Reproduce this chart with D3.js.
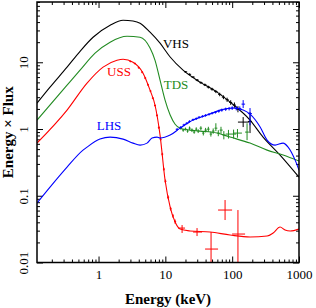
<!DOCTYPE html>
<html>
<head>
<meta charset="utf-8">
<script src="https://cdn.jsdelivr.net/npm/d3@7"></script>
<style>
  html, body { margin: 0; padding: 0; background: #fff; }
  svg { display: block; }
</style>
</head>
<body>
<div id="chart"></div>
<script>
// Tick labels
const energyTicks = [1, 10, 100, 1000];
const fluxTicks = [0.01, 0.1, 1, 10];

// Model curves: [energy keV, E x Flux]
const vhsModel = [[0.12, 2.44], [0.188, 4.24], [0.338, 8.45], [0.529, 14.6], [0.828, 23.7], [1.49, 35.9],
    [2.33, 42.7], [3.28, 41.5], [4.18, 38.5], [5.9, 28.2], [8.33, 19.3], [11.8, 12.0], [18.4, 7.62],
    [33.1, 5.04], [59.4, 3.57], [93, 2.53], [185, 1.36], [290, 0.757], [521, 0.407], [1000, 0.19]];
const tdsModel = [[0.12, 1.36], [0.338, 4.54], [0.529, 7.62], [0.887, 13.7], [1.49, 20.0], [2.67, 24.5],
    [4.18, 23.7], [5.9, 16.3], [7.01, 10.7], [8.33, 5.4], [9.9, 2.71], [11.8, 1.62], [14.0, 1.18],
    [16.6, 1.03], [23.4, 0.963], [33.1, 0.931], [59.4, 0.869], [93, 0.757], [185, 0.615], [333, 0.483],
    [578, 0.407], [1000, 0.331]];
const ussModel = [[0.12, 0.615], [0.338, 1.92], [0.673, 4.87], [1.17, 8.45], [1.89, 10.7], [2.33, 11.1],
    [3.28, 10.0], [4.64, 6.87], [5.9, 3.82], [7.01, 2.27], [8.33, 0.811], [9.9, 0.172], [11.8, 0.0678],
    [14.0, 0.0404], [16.6, 0.0317], [23.4, 0.0297], [46.7, 0.0286], [93, 0.0258], [185, 0.0241],
    [333, 0.0249], [410, 0.0277], [521, 0.034], [619, 0.0307], [736, 0.0297], [1000, 0.0317]];
const lhsModel = [[0.12, 0.0778], [0.188, 0.135], [0.338, 0.269], [0.586, 0.483], [0.673, 0.536],
    [1.05, 0.706], [1.49, 0.757], [2.33, 0.706], [3.28, 0.615], [4.18, 0.574], [5.32, 0.615],
    [6.32, 0.731], [7.51, 0.757], [8.33, 0.731], [11.8, 0.811], [16.6, 1.03], [26.0, 1.36], [42.1, 1.62],
    [65.9, 1.92], [103, 2.06], [146, 1.92], [185, 1.67], [262, 1.07], [333, 0.682], [439, 0.574],
    [578, 0.615], [687, 0.536], [875, 0.342], [1000, 0.242]];

// Data points: [energy, flux, eLo, eHi, fLo, fHi]
const vhsData = [[20, 7.2, 19, 21.2, 7.0, 7.4], [23, 6.6, 21.8, 24.3, 6.4, 6.8], [26, 6.0, 24.6, 27.5, 5.8, 6.2],
    [30, 5.4, 28.4, 31.7, 5.2, 5.6], [34, 4.95, 32.2, 36, 4.75, 5.15], [39, 4.6, 37, 41.2, 4.4, 4.8],
    [44, 4.25, 41.7, 46.5, 4.05, 4.45], [50, 3.95, 47.4, 52.8, 3.75, 4.15], [57, 3.65, 54, 60.2, 3.45, 3.85],
    [65, 3.3, 61.6, 68.6, 3.1, 3.5], [74, 3.0, 70, 78, 2.8, 3.2], [84, 2.75, 79.5, 88.7, 2.55, 2.95],
    [95, 2.5, 90, 100, 2.3, 2.7], [108, 2.28, 102, 114, 2.08, 2.5], [122, 1.98, 115, 129, 1.78, 2.2],
    [146, 1.27, 122, 178, 1.07, 1.51], [185, 1.3, 172, 198, 0.87, 1.79]];
const tdsData = [[17, 1.03, 16.2, 17.8, 0.98, 1.08], [18.5, 0.963, 17.8, 19.3, 0.91, 1.01],
    [20, 0.996, 19.3, 20.8, 0.95, 1.05], [21.5, 0.931, 20.8, 22.3, 0.88, 0.98],
    [23, 1.03, 22.3, 24, 0.97, 1.09], [25, 0.963, 24, 26, 0.9, 1.02], [27, 0.899, 26, 28, 0.85, 0.96],
    [29, 0.996, 28, 30, 0.93, 1.06], [31, 0.931, 30, 32.5, 0.87, 0.99], [34, 1.03, 32.5, 35.5, 0.96, 1.1],
    [37, 0.869, 35.5, 38.5, 0.8, 0.93], [40, 0.963, 38.5, 42, 0.89, 1.04], [44, 0.996, 42, 46, 0.91, 1.08],
    [48, 0.84, 46, 50, 0.77, 0.92], [52, 0.931, 50, 54.5, 0.85, 1.02], [57, 1.03, 54.5, 60, 0.93, 1.22],
    [62, 0.869, 60, 65, 0.78, 0.96], [68, 0.963, 65, 72, 0.85, 1.08], [75, 0.811, 72, 80, 0.7, 0.93],
    [88, 0.84, 80, 96, 0.72, 0.97], [105, 0.84, 96, 115, 0.72, 0.98], [120, 0.869, 103, 140, 0.74, 1.0],
    [167, 0.899, 156, 178, 0.682, 1.22]];
const ussData = [[3.0, 10.3, 2.9, 3.1, 10.0, 10.6], [3.5, 9.6, 3.38, 3.62, 9.3, 9.9], [4.0, 8.3, 3.86, 4.14, 8.0, 8.6],
    [4.5, 7.1, 4.35, 4.65, 6.85, 7.35], [5.0, 5.8, 4.83, 5.17, 5.6, 6.0], [5.5, 4.6, 5.32, 5.68, 4.45, 4.75],
    [6.0, 3.7, 5.8, 6.2, 3.58, 3.82], [6.5, 2.9, 6.28, 6.72, 2.8, 3.0], [7.0, 2.25, 6.77, 7.23, 2.17, 2.33],
    [7.5, 1.6, 7.25, 7.75, 1.54, 1.66], [8.0, 1.05, 7.73, 8.27, 1.0, 1.1], [8.5, 0.7, 8.22, 8.78, 0.67, 0.73],
    [9.0, 0.42, 8.7, 9.3, 0.4, 0.44], [9.5, 0.25, 9.2, 9.8, 0.238, 0.262], [10, 0.165, 9.7, 10.4, 0.155, 0.175],
    [11, 0.095, 10.6, 11.4, 0.089, 0.101], [12, 0.064, 11.6, 12.4, 0.06, 0.068], [13, 0.05, 12.6, 13.4, 0.047, 0.053],
    [14, 0.041, 13.5, 14.5, 0.038, 0.044], [17.8, 0.0328, 15.5, 19.7, 0.0277, 0.0364],
    [29.8, 0.0286, 26, 35.4, 0.0249, 0.0328], [78.3, 0.0611, 61.5, 99.7, 0.0433, 0.0863],
    [48.3, 0.0159, 39.3, 61.5, 0.005, 0.0286], [122, 0.0267, 99.7, 156, 0.005, 0.0611]];
const lhsData = [[15, 0.99, 14.3, 15.7, 0.95, 1.03], [17, 1.06, 16.2, 17.8, 1.02, 1.1], [19, 1.15, 18.1, 19.9, 1.1, 1.2],
    [21, 1.22, 20, 22, 1.17, 1.27], [23, 1.3, 22, 24.2, 1.25, 1.35], [26, 1.38, 24.8, 27.3, 1.33, 1.43],
    [29, 1.43, 27.6, 30.4, 1.37, 1.49], [32, 1.5, 30.5, 33.6, 1.44, 1.56], [36, 1.55, 34.3, 37.8, 1.49, 1.61],
    [40, 1.6, 38.1, 42, 1.53, 1.67], [45, 1.66, 42.8, 47.2, 1.59, 1.73], [50, 1.72, 47.6, 52.5, 1.65, 1.8],
    [56, 1.78, 53.3, 58.8, 1.7, 1.86], [63, 1.85, 60, 66, 1.76, 1.94], [70, 1.92, 66.7, 73.5, 1.82, 2.02],
    [80, 1.98, 76, 84, 1.87, 2.09], [90, 2.02, 85.7, 94.5, 1.9, 2.14], [100, 2.06, 95, 105, 1.93, 2.19],
    [115, 2.05, 109, 121, 1.9, 2.2], [130, 2.02, 123, 137, 1.86, 2.18], [146, 2.36, 138, 156, 2.06, 2.71],
    [185, 1.7, 172, 198, 1.14, 2.06]];

const series = [
    { name: 'VHS', color: '#000000', model: vhsModel, data: vhsData, label: [176, 48] },
    { name: 'TDS', color: '#228b22', model: tdsModel, data: tdsData, label: [176, 89] },
    { name: 'USS', color: '#ff0000', model: ussModel, data: ussData, label: [119, 76] },
    { name: 'LHS', color: '#0000ff', model: lhsModel, data: lhsData, label: [109, 130] }
];

const width = 316, height = 308;
const margin = { top: 2, right: 17, bottom: 45.5, left: 37 };
const innerW = width - margin.left - margin.right;
const innerH = height - margin.top - margin.bottom;
const fontFamily = '"Liberation Serif", "Times New Roman", serif';

const svg = d3.select('#chart')
    .append('svg')
    .attr('width', width)
    .attr('height', height);

const x = d3.scaleLog().domain([0.12, 1000]).range([0, innerW]);
const y = d3.scaleLog().domain([0.01, 80]).range([innerH, 0]);

const g = svg.append('g')
    .attr('transform', `translate(${margin.left},${margin.top})`);

g.append('clipPath').attr('id', 'plot-clip')
    .append('rect').attr('width', innerW).attr('height', innerH);

// log ticks: minor and major
const allTicks = (scale) => {
    const [lo, hi] = scale.domain();
    const out = [];
    for (let d = -3; d <= 4; d++) {
        for (let k = 1; k <= 9; k++) {
            const v = k * Math.pow(10, d);
            if (v >= lo * 0.999 && v <= hi * 1.001) out.push({ v, major: k === 1 });
        }
    }
    return out;
};
const xMinor = allTicks(x).filter(t => !t.major).map(t => t.v);
const yMinor = allTicks(y).filter(t => !t.major).map(t => t.v);

const styleAxis = (sel) => {
    sel.select('.domain').remove();
    sel.selectAll('line').attr('stroke', '#000').attr('stroke-width', 1);
    sel.selectAll('text').attr('fill', '#000').style('font-family', fontFamily).style('font-size', '13px');
};

// bottom
g.append('g').attr('transform', `translate(0,${innerH})`)
    .call(d3.axisBottom(x).tickValues(xMinor).tickSize(-3).tickFormat(''))
    .call(styleAxis);
g.append('g').attr('transform', `translate(0,${innerH})`)
    .call(d3.axisBottom(x).tickValues(energyTicks).tickSize(-6).tickPadding(7).tickFormat(d3.format('d')))
    .call(styleAxis);
// top
g.append('g')
    .call(d3.axisTop(x).tickValues(xMinor).tickSize(-3).tickFormat(''))
    .call(styleAxis);
g.append('g')
    .call(d3.axisTop(x).tickValues(energyTicks).tickSize(-6).tickFormat(''))
    .call(styleAxis);
// left
g.append('g')
    .call(d3.axisLeft(y).tickValues(yMinor).tickSize(-3).tickFormat(''))
    .call(styleAxis);
const yAxisG = g.append('g')
    .call(d3.axisLeft(y).tickValues(fluxTicks).tickSize(-6).tickFormat(d => String(d)))
    .call(styleAxis);
yAxisG.selectAll('text')
    .attr('transform', 'rotate(-90)')
    .attr('x', 0)
    .attr('y', -9)
    .attr('dy', 0)
    .attr('text-anchor', 'middle');
// right
g.append('g').attr('transform', `translate(${innerW},0)`)
    .call(d3.axisRight(y).tickValues(yMinor).tickSize(-3).tickFormat(''))
    .call(styleAxis);
g.append('g').attr('transform', `translate(${innerW},0)`)
    .call(d3.axisRight(y).tickValues(fluxTicks).tickSize(-6).tickFormat(''))
    .call(styleAxis);

const plot = g.append('g').attr('clip-path', 'url(#plot-clip)');

const line = d3.line()
    .x(d => x(d[0]))
    .y(d => y(d[1]))
    .curve(d3.curveMonotoneX);

series.forEach(s => {
    plot.append('path')
        .datum(s.model)
        .attr('fill', 'none')
        .attr('stroke', s.color)
        .attr('stroke-width', 1.1)
        .attr('d', line);

    const crosses = plot.append('g')
        .attr('stroke', s.color)
        .attr('stroke-width', 1)
        .selectAll('g')
        .data(s.data)
        .join('g');
    crosses.append('line')
        .attr('x1', d => x(d[2])).attr('x2', d => x(d[3]))
        .attr('y1', d => y(d[1])).attr('y2', d => y(d[1]));
    crosses.append('line')
        .attr('x1', d => x(d[0])).attr('x2', d => x(d[0]))
        .attr('y1', d => y(d[4])).attr('y2', d => y(d[5]));

    g.append('text')
        .attr('x', s.label[0] - margin.left)
        .attr('y', s.label[1] - margin.top)
        .attr('text-anchor', 'middle')
        .attr('fill', s.color)
        .style('font-family', fontFamily)
        .style('font-size', '13px')
        .text(s.name);
});

// frame
g.append('rect')
    .attr('width', innerW)
    .attr('height', innerH)
    .attr('fill', 'none')
    .attr('stroke', '#000')
    .attr('stroke-width', 1.5);

// axis titles
svg.append('text')
    .attr('x', margin.left + innerW / 2)
    .attr('y', 304)
    .attr('text-anchor', 'middle')
    .style('font-family', fontFamily)
    .style('font-size', '15px')
    .style('font-weight', 'bold')
    .text('Energy (keV)');

svg.append('text')
    .attr('transform', `translate(13,${margin.top + innerH / 2}) rotate(-90)`)
    .attr('text-anchor', 'middle')
    .style('font-family', fontFamily)
    .style('font-size', '15px')
    .style('font-weight', 'bold')
    .text('Energy × Flux');
</script>
</body>
</html>
